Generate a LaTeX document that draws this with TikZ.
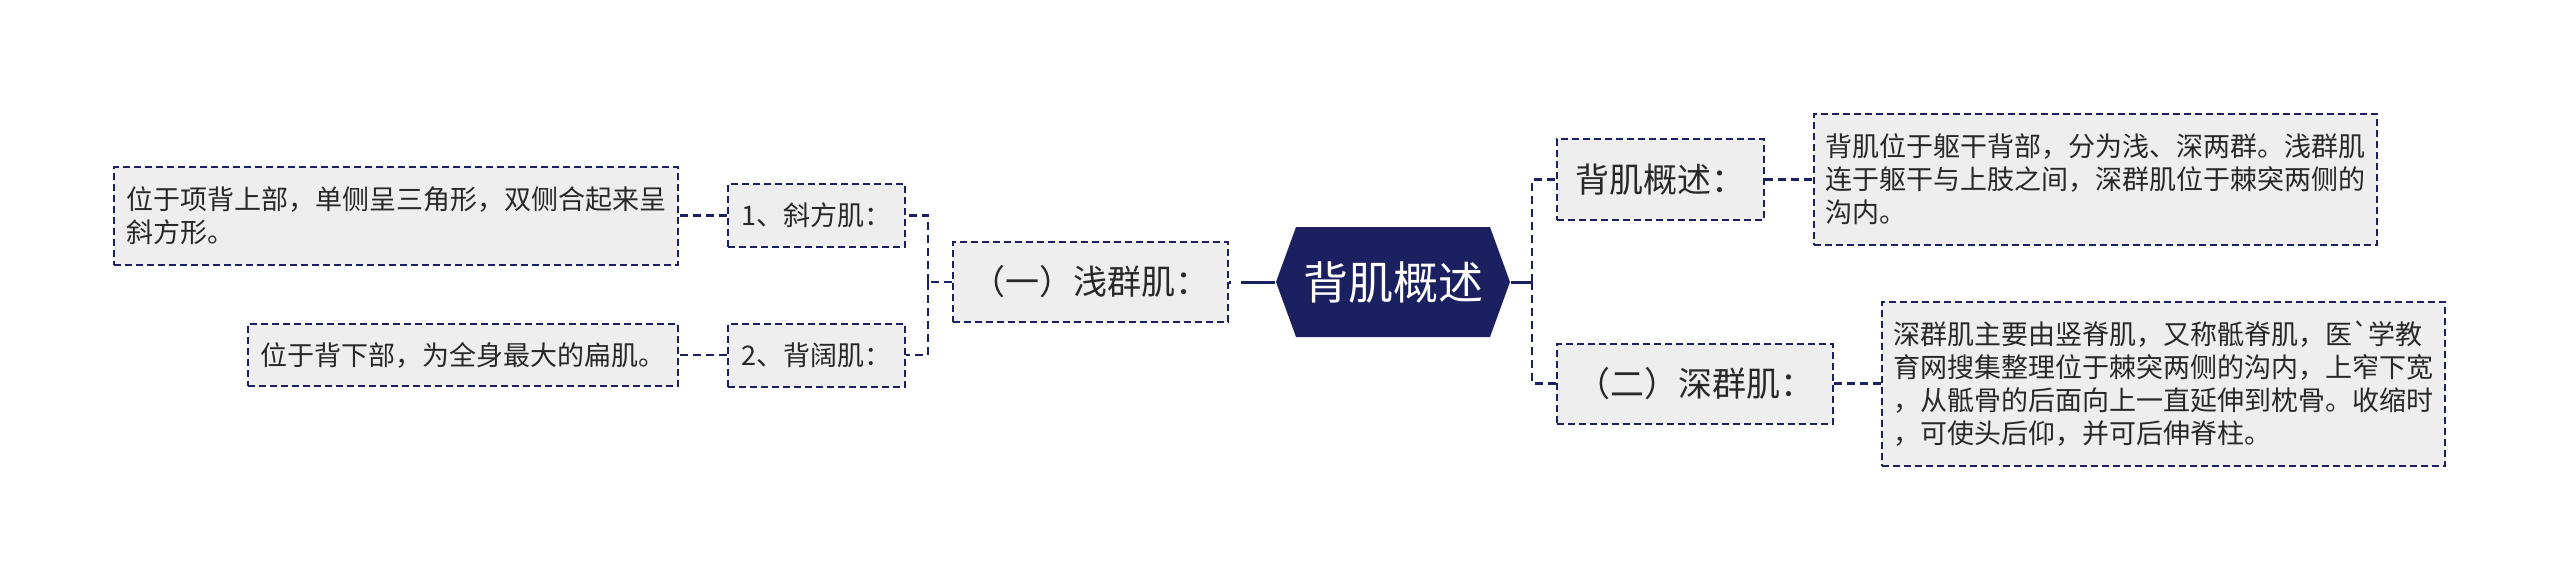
\documentclass[tikz,border=0pt]{standalone}
\usepackage{fontspec}
\newfontfamily\cjk{Noto Sans CJK SC}
\usetikzlibrary{shapes.symbols}
\definecolor{navy}{RGB}{27,33,96}
\definecolor{boxgray}{RGB}{238,238,238}
\definecolor{inkgray}{RGB}{40,40,40}

\begin{document}
\begin{tikzpicture}[
		x=1pt, y=-1pt,
		every node/.style={
			draw=navy, fill=boxgray, text=inkgray,
			line width=2pt, dash pattern=on 7pt off 4pt,
			inner sep=0pt, align=center, font=\cjk
		},
		rootnode/.style={
			shape=signal, signal to=west and east, signal pointer angle=140,
			fill=navy, draw=none, solid, text=white,
			minimum width=234pt, minimum height=110pt,
			font=\cjk\fontsize{45pt}{54pt}\selectfont
		},
		topic/.style={minimum height=80pt, font=\cjk\fontsize{34pt}{40pt}\selectfont},
		item/.style={minimum width=177pt, minimum height=63pt, font=\cjk\fontsize{27pt}{33pt}\selectfont},
		note/.style={align=left, font=\cjk\fontsize{27pt}{33pt}\selectfont},
		link/.style={draw=navy, line width=2.5pt, dash pattern=on 8pt off 5pt},
		stem/.style={draw=navy, line width=3pt}
		]
		
		\useasboundingbox (0,0) rectangle (2560,581);
		
		\node[rootnode] (root) at (1393,282) {背肌概述};
		
		% left: shallow group
		\node[topic, minimum width=275pt] (shallow) at (1090.5,282) {（一）浅群肌：};
		\node[item] (trap) at (816.5,215.5) {1、斜方肌：};
		\node[item] (lat) at (816.5,355) {2、背阔肌：};
		\node[note, minimum width=564pt, minimum height=98pt] (trapnote) at (396,215.5) {位于项背上部，单侧呈三角形，双侧合起来呈\\斜方形。};
		\node[note, minimum width=430pt, minimum height=62pt] (latnote) at (463,355) {位于背下部，为全身最大的扁肌。};
		
		% right: overview and deep group
		\node[topic, minimum width=207pt, minimum height=81pt] (intro) at (1660.5,179.5) {背肌概述：};
		\node[topic, minimum width=276pt] (deep) at (1695,383.5) {（二）深群肌：};
		\node[note, minimum width=563pt, minimum height=131pt] (intronote) at (2095.5,179.5) {背肌位于躯干背部，分为浅、深两群。浅群肌\\连于躯干与上肢之间，深群肌位于棘突两侧的\\沟内。};
		\node[note, minimum width=563pt, minimum height=164pt] (deepnote) at (2163.5,383.5) {深群肌主要由竖脊肌，又称骶脊肌，医\textasciigrave 学教\\育网搜集整理位于棘突两侧的沟内，上窄下宽\\，从骶骨的后面向上一直延伸到枕骨。收缩时\\，可使头后仰，并可后伸脊柱。};
		
		\coordinate (lsplit) at (928,282);
		\coordinate (rsplit) at (1532,282);
		
		\draw[stem, dash pattern=on 34pt off 10pt on 6pt off 2pt] (root.west) -- (shallow.east);
		\draw[link] (shallow.west) -- (lsplit);
		\draw[link] (lsplit) |- (trap.east);
		\draw[link] (lsplit) |- (lat.east);
		\draw[link] (trap.west) -- (trapnote.east);
		\draw[link] (lat.west) -- (latnote.east);
		\draw[stem] (root.east) -- (rsplit);
		\draw[link] (rsplit) |- (intro.west);
		\draw[link] (rsplit) |- (deep.west);
		\draw[link] (intro.east) -- (intronote.west);
		\draw[link] (deep.east) -- (deepnote.west);
	\end{tikzpicture}
\end{document}
